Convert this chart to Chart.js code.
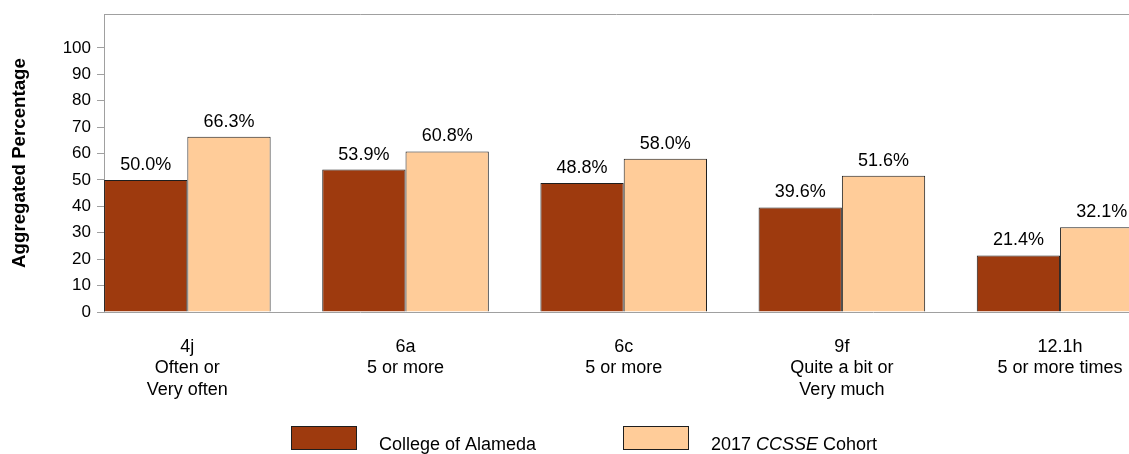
<!DOCTYPE html>
<html>
<head>
<meta charset="utf-8">
<script src="https://cdn.jsdelivr.net/npm/chart.js@4/dist/chart.umd.min.js"></script>
<style>
  html, body { margin: 0; padding: 0; background: #ffffff; }
  #wrap { width: 1129px; height: 454px; position: relative; }
</style>
</head>
<body>
<div id="wrap"><canvas id="c" width="1129" height="454"></canvas></div>
<script>
// ---- data ----
const categories = [
  ["4j", "Often or", "Very often"],
  ["6a", "5 or more"],
  ["6c", "5 or more"],
  ["9f", "Quite a bit or", "Very much"],
  ["12.1h", "5 or more times"]
];
const seriesNames = ["College of Alameda", "2017 CCSSE Cohort"];
const collegeValues = [50.0, 53.9, 48.8, 39.6, 21.4];
const cohortValues = [66.3, 60.8, 58.0, 51.6, 32.1];
const yTickValues = [0, 10, 20, 30, 40, 50, 60, 70, 80, 90, 100];
const yTitle = "Aggregated Percentage";
// legend label pieces (italic flag for CCSSE)
const legendParts = [
  [{ t: "College of Alameda", i: false }],
  [{ t: "2017 ", i: false }, { t: "CCSSE", i: true }, { t: " Cohort", i: false }]
];

const FONT = "'Liberation Sans', Arial, sans-serif";
const colors = ["#9E3A0E", "#FFCC99"];
const borderCol = "#1e1e1e";

const toPoints = arr => arr.map((v, i) => ({ x: i, y: v }));

const labelPlugin = {
  id: 'valueLabels',
  afterDatasetsDraw(chart) {
    const ctx = chart.ctx;
    ctx.save();
    ctx.font = "18px " + FONT;
    ctx.fillStyle = "#000";
    ctx.textAlign = "center";
    ctx.textBaseline = "alphabetic";
    chart.data.datasets.forEach((ds, di) => {
      const meta = chart.getDatasetMeta(di);
      meta.data.forEach((bar, i) => {
        const txt = ds.data[i].y.toFixed(1) + "%";
        let x = bar.x;
        const w = ctx.measureText(txt).width;
        if (x + w / 2 > chart.width - 1) x = chart.width - 1 - w / 2;
        ctx.fillText(txt, x, bar.y - 10);
      });
    });
    ctx.restore();
  }
};

const framePlugin = {
  id: 'frame',
  afterDraw(chart) {
    const ctx = chart.ctx;
    const a = chart.chartArea;
    ctx.save();
    ctx.strokeStyle = "#a0a0a0";
    ctx.lineWidth = 1;
    ctx.beginPath();
    ctx.moveTo(a.left, a.top + 0.5);
    ctx.lineTo(a.right, a.top + 0.5);
    ctx.stroke();

    // custom legend
    const boxes = [{ x: 291, y: 426 }, { x: 623, y: 426 }];
    ctx.textBaseline = "alphabetic";
    ctx.textAlign = "left";
    boxes.forEach((b, k) => {
      ctx.fillStyle = colors[k];
      ctx.fillRect(b.x, b.y, 66, 24);
      ctx.strokeStyle = borderCol;
      ctx.lineWidth = 1;
      ctx.strokeRect(b.x + 0.5, b.y + 0.5, 65, 23);
      let tx = b.x + 88;
      ctx.fillStyle = "#000";
      legendParts[k].forEach(p => {
        ctx.font = (p.i ? "italic " : "") + "18px " + FONT;
        ctx.fillText(p.t, tx, 450);
        tx += ctx.measureText(p.t).width;
      });
    });
    ctx.restore();
  }
};

new Chart(document.getElementById('c'), {
  type: 'bar',
  data: {
    datasets: [
      {
        label: seriesNames[0],
        data: toPoints(collegeValues),
        backgroundColor: colors[0],
        borderColor: borderCol,
        borderWidth: 1,
        categoryPercentage: 0.7635,
        barPercentage: 1.0
      },
      {
        label: seriesNames[1],
        data: toPoints(cohortValues),
        backgroundColor: colors[1],
        borderColor: borderCol,
        borderWidth: 1,
        categoryPercentage: 0.7635,
        barPercentage: 1.0
      }
    ]
  },
  options: {
    responsive: false,
    animation: false,
    devicePixelRatio: 1,
    layout: { padding: { top: 14, left: 0, right: 0, bottom: 0 } },
    plugins: {
      legend: { display: false },
      tooltip: { enabled: false }
    },
    scales: {
      x: {
        type: 'linear',
        offset: false,
        min: -0.382,
        max: 4.316,
        grid: { display: false, drawTicks: false, offset: false },
        border: { display: true, color: "#a0a0a0", width: 1 },
        afterBuildTicks: s => { s.ticks = categories.map((c, i) => ({ value: i })); },
        afterFit: s => { s.height = 142; s.paddingLeft = 0; s.paddingRight = 0; },
        ticks: {
          autoSkip: false,
          maxRotation: 0,
          padding: 24,
          color: "#000",
          font: { family: FONT, size: 18 },
          callback: (v, idx) => categories[idx]
        }
      },
      y: {
        min: 0,
        max: 112.8,
        afterBuildTicks: s => { s.ticks = yTickValues.map(v => ({ value: v })); },
        afterFit: s => { s.width = 104; s.paddingTop = 0; s.paddingBottom = 0; },
        grid: { drawOnChartArea: false, drawTicks: true, tickLength: 7, color: "#a0a0a0" },
        border: { display: true, color: "#a0a0a0", width: 1 },
        ticks: {
          padding: 6,
          color: "#000",
          font: { family: FONT, size: 17 }
        },
        title: {
          display: true,
          text: yTitle,
          color: "#000",
          padding: { top: 9, bottom: 0 },
          font: { family: FONT, size: 18.7, weight: 'bold' }
        }
      }
    }
  },
  plugins: [labelPlugin, framePlugin]
});
</script>
</body>
</html>
